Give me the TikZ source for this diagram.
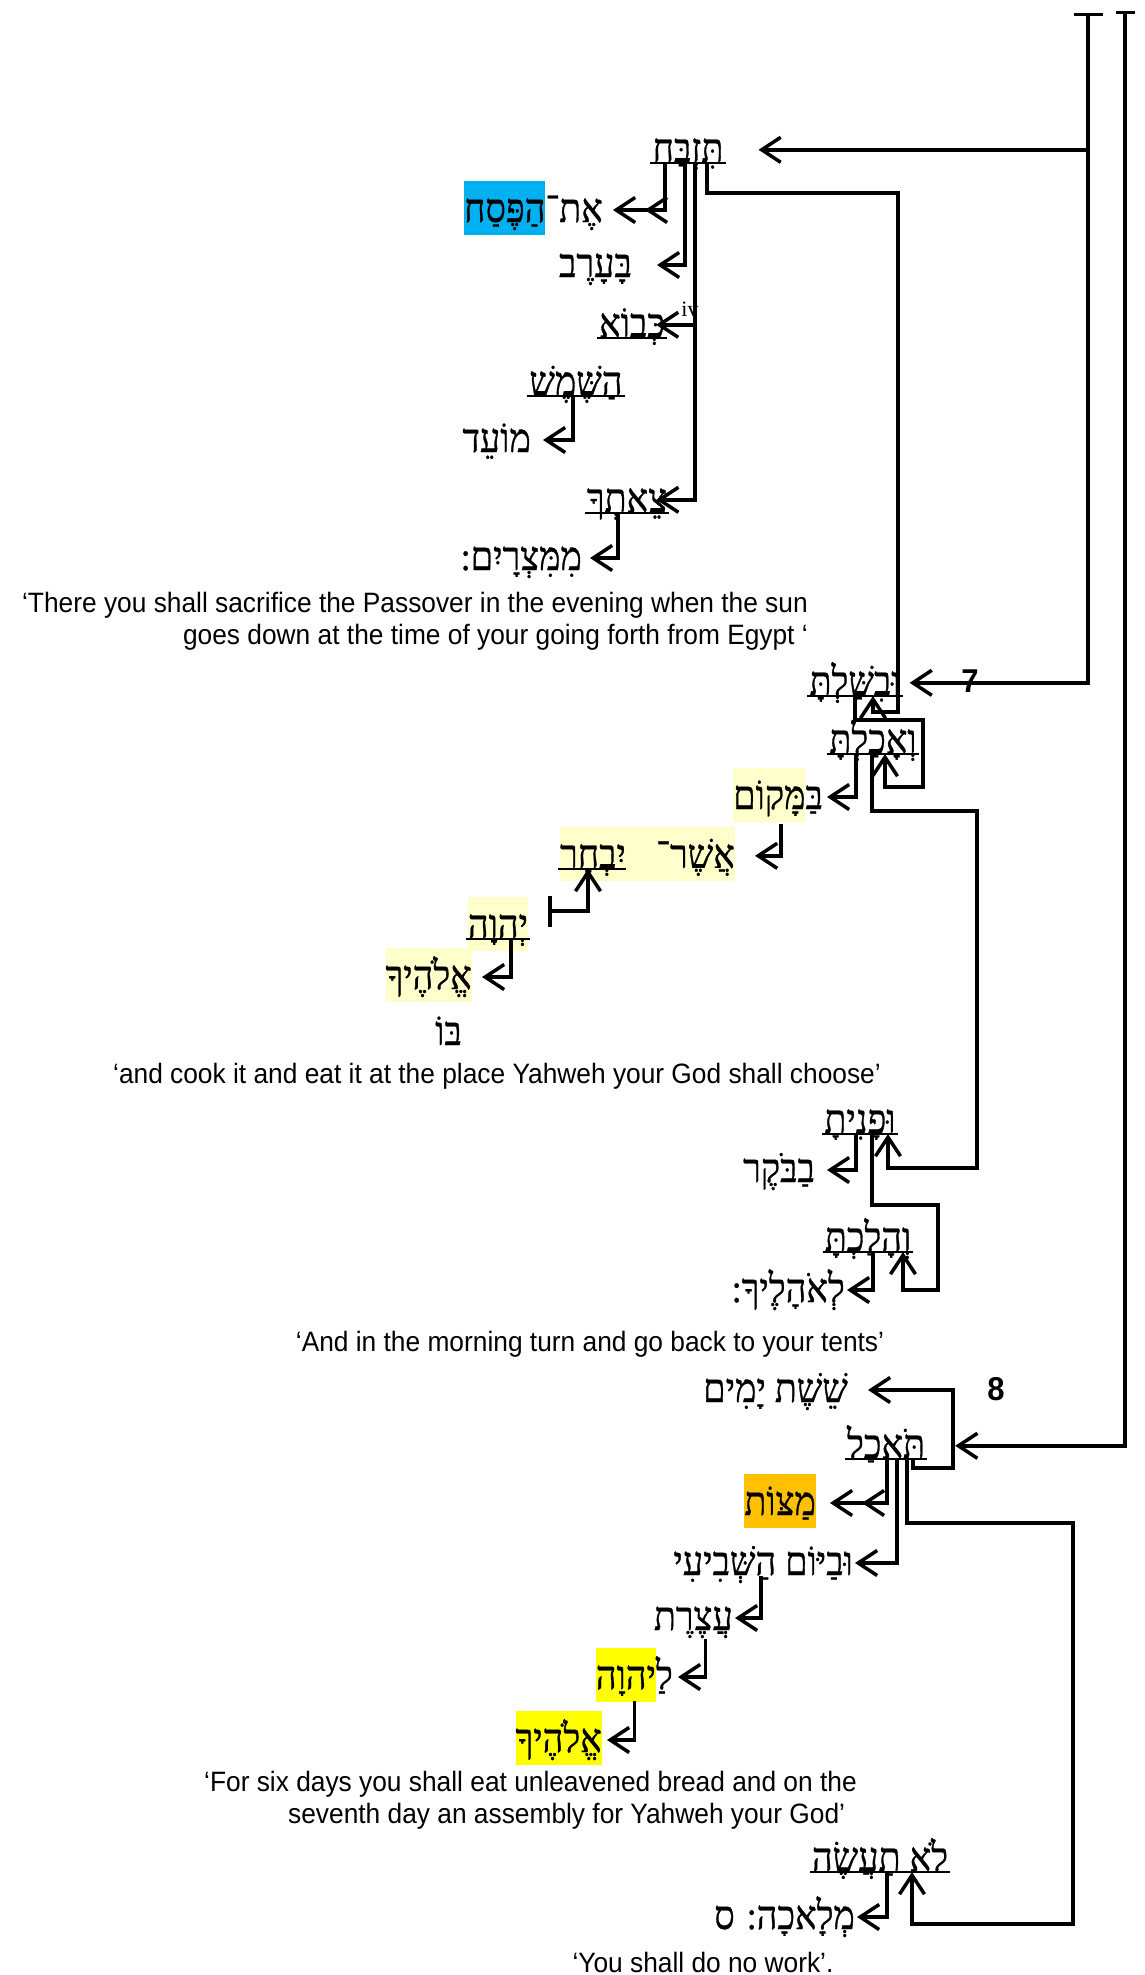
\documentclass[tikz,border=0pt]{standalone}
\usepackage{fontspec}
\setmainfont{Liberation Sans}[FakeStretch=0.94]
\newfontfamily\hebfont[Script=Hebrew,FakeStretch=0.9,FakeBold=0.8]{Liberation Serif}
\newfontfamily\supfont{Liberation Serif}
\TeXXeTstate=1
\usepackage{xcolor}
\definecolor{hlBlue}{HTML}{00B0F0}
\definecolor{hlPale}{HTML}{FFFFCC}
\definecolor{hlOrange}{HTML}{FFC000}
\definecolor{hlYellow}{HTML}{FFFF00}
\usetikzlibrary{arrows.meta,positioning}
\newcommand{\heb}[1]{\beginR #1\endR}
% highlight: kept outside any right-to-left run
\newcommand{\hlw}[2]{{\setlength{\fboxsep}{0pt}\colorbox{#1}{\beginR\rule[-13pt]{0pt}{54pt}#2\endR}}}
\tikzset{
    word/.style={
        font=\hebfont\fontsize{40}{44}\selectfont,
        inner xsep=2pt,
        inner ysep=1pt,
        text height=24pt,
        text depth=0pt
    },
    uword/.style={
        word,
        append after command={(\tikzlastnode.south west) edge[line width=1.6pt] (\tikzlastnode.south east)}
    },
    gloss/.style={
        font=\fontsize{28}{32}\selectfont,
        inner sep=0pt
    },
    versenum/.style={
        font=\fontsize{33}{34}\selectfont\bfseries,
        inner sep=0pt
    },
    arrow/.style={
        -{Straight Barb[length=19pt,width=25pt]},
        line width=3.5pt
    },
    darrow/.style={
        arrow,
        -{Straight Barb[length=19pt,width=25pt,sep=8pt]Straight Barb[length=19pt,width=25pt]}
    },
    bararrow/.style={
        arrow,
        {Bar[width=#1]}-{Straight Barb[length=19pt,width=25pt]}
    },
    bararrow/.default=29pt
}

\begin{document}
\begin{tikzpicture}[x=1pt,y=-1pt]
    \useasboundingbox (0,0) rectangle (1144,1975);
    \coordinate (rootA) at (1088,13);
    \coordinate (rootB) at (1125,11);

    % verse 6
    \node[uword, anchor=south] (tizbach) at (688,163) {\heb{תִּזְבַּח}};
    \node[word, anchor=east] (pesach) at (605,210) {\hlw{hlBlue}{הַפֶּסַח}\heb{אֶת־}};
    \node[word, anchor=east] (baerev) at (634,265) {\heb{בָּעָרֶב}};
    \node[uword, anchor=south] (kevo) at (632,338) {\heb{כְּבוֹא}};
    \node[font=\supfont\fontsize{22}{22}\selectfont, inner sep=0pt] (kevoiv) at (690,309) {iv};
    \node[uword, anchor=south] (hashemesh) at (576,396) {\heb{הַשֶּׁמֶשׁ}};
    \node[word, anchor=east] (moed) at (533,440) {\heb{מוֹעֵד}};
    \node[uword, anchor=south] (tseteka) at (627,513) {\heb{צֵאתְךָ}};
    \node[word, anchor=east] (mimitsrayim) at (584,558) {\heb{מִמִּצְרָיִם:}};
    \node[gloss, anchor=east, align=right] (gloss6) at (808,621)
        {‘There you shall sacrifice the Passover in the evening when the sun\\goes down at the time of your going forth from Egypt ‘};

    \draw[bararrow] (rootA) |- ([xshift=33]tizbach.east);
    \draw[darrow] ([xshift=-23]tizbach.south) |- ([xshift=8]pesach.east);
    \draw[arrow] ([xshift=-3]tizbach.south) |- ([xshift=23]baerev.east);
    \draw[arrow] ([xshift=7]tizbach.south) |- ([xshift=-11]kevo.east);
    \draw[arrow] ([xshift=7]tizbach.south) |- ([xshift=-13]tseteka.east);
    \draw[arrow] ([xshift=-3]hashemesh.south) |- ([xshift=10]moed.east);
    \draw[arrow] ([xshift=-9]tseteka.south) |- ([xshift=6]mimitsrayim.east);

    % verse 7
    \node[versenum] (v7) at (970,681) {7};
    \node[uword, anchor=south] (bishalta) at (855,696) {\heb{וּבִשַּׁלְתָּ}};
    \node[uword, anchor=south] (veachalta) at (873,754) {\heb{וְאָכַלְתָּ}};
    \node[word, anchor=east] (bamakom) at (825,797) {\hlw{hlPale}{מָּקוֹם}\heb{בַּ}};
    \node[uword, anchor=south] (yivchar) at (593,869) {\hlw{hlPale}{יִבְחַר}};
    \node[word, inner xsep=0pt, right=-2pt of yivchar] (asher) {\hlw{hlPale}{אֲשֶׁר־\hspace{30pt}}};
    \node[uword, anchor=south] (yhwhA) at (498,939) {\hlw{hlPale}{יְהוָה}};
    \node[word, anchor=east] (elohechaA) at (474,977) {\hlw{hlPale}{אֱלֹהֶיךָ}};
    \node[word, anchor=east] (bo) at (464,1033) {\heb{בּוֹ}};
    \node[gloss] (gloss7a) at (497,1076)
        {‘and cook it and eat it at the place Yahweh your God shall choose’};
    \node[uword, anchor=south] (vufanita) at (860,1134) {\heb{וּפָנִיתָ}};
    \node[word, anchor=east] (baboker) at (817,1170) {\heb{בַבֹּקֶר}};
    \node[uword, anchor=south] (vehalachta) at (868,1252) {\heb{וְהָלַכְתָּ}};
    \node[word, anchor=east] (leohalecha) at (847,1290) {\heb{לְאֹהָלֶיךָ:}};
    \node[gloss] (gloss7b) at (590,1344)
        {‘And in the morning turn and go back to your tents’};

    \draw[arrow] ([xshift=19]tizbach.south) |- ++(191,30) -- ++(0,519) -| ([xshift=18]bishalta.south);
    \draw[bararrow] (rootA) |- ([xshift=7]bishalta.east);
    \draw[arrow] (bishalta.south) |- ++(68,24) -- ++(0,67) -| ([xshift=12]veachalta.south);
    \draw[arrow] ([xshift=-17]veachalta.south) |- ([xshift=2]bamakom.east);
    \draw[arrow] ([xshift=3,yshift=-14]bamakom.south) |- ([xshift=20]asher.east);
    \draw[bararrow=31pt] ([xshift=50,yshift=28]yhwhA.south) -| ([xshift=-5]yivchar.south);
    \draw[arrow] ([xshift=13]yhwhA.south) |- ([xshift=8]elohechaA.east);
    \draw[arrow] ([xshift=-1]veachalta.south) |- ++(105,57) -- ++(0,357) -| ([xshift=28]vufanita.south);
    \draw[arrow] ([xshift=-4]vufanita.south) |- ([xshift=10]baboker.east);
    \draw[arrow] ([xshift=12]vufanita.south) |- ++(66,71) -- ++(0,85) -| ([xshift=35]vehalachta.south);
    \draw[arrow] ([xshift=5]vehalachta.south) |- (leohalecha.east);

    % verse 8
    \node[versenum] (v8) at (996,1389) {8};
    \node[word, anchor=east] (sheshet) at (850,1390) {\heb{שֵׁשֶׁת יָמִים}};
    \node[uword, anchor=south] (tochal) at (886,1459) {\heb{תֹּאכַל}};
    \node[word, anchor=east] (matsot) at (818,1503) {\hlw{hlOrange}{מַצּוֹת}};
    \node[word, anchor=east] (uvayom) at (855,1563) {\heb{וּבַיּוֹם הַשְּׁבִיעִי}};
    \node[word, anchor=east] (atseret) at (735,1618) {\heb{עֲצֶרֶת}};
    \node[word, anchor=east] (layhwh) at (675,1677) {\hlw{hlYellow}{יהוָה}\heb{לַ}};
    \node[word, anchor=east] (elohechaB) at (604,1740) {\hlw{hlYellow}{אֱלֹהֶיךָ}};
    \node[gloss, anchor=west, align=left] (gloss8a) at (204,1800)
        {‘For six days you shall eat unleavened bread and on the\\\hspace*{84pt}seventh day an assembly for Yahweh your God’};
    \node[uword, anchor=south] (lotaase) at (880,1872) {\heb{לֹא תַעֲשֶׂה}};
    \node[word, anchor=east] (melacha) at (857,1917) {\heb{מְלָאכָה: ס}};
    \node[gloss] (gloss8b) at (703,1962) {‘You shall do no work’.};

    \draw[bararrow=19pt] (rootB) |- ([xshift=28]tochal.east);
    \draw[arrow] ([xshift=27]tochal.south) |- ++(40,9) |- ([xshift=18]sheshet.east);
    \draw[darrow] ([xshift=1]tochal.south) |- ([xshift=12]matsot.east);
    \draw[arrow] ([xshift=11]tochal.south) |- (uvayom.east);
    \draw[arrow] ([xshift=-2]uvayom.south) |- (atseret.east);
    \draw[arrow] ([xshift=12,yshift=-8]atseret.south) |- ([xshift=3]layhwh.east);
    \draw[arrow] ([yshift=-11]layhwh.south) |- ([xshift=3]elohechaB.east);
    \draw[arrow] ([xshift=21]tochal.south) |- ++(166,64) -- ++(0,401) -| ([xshift=32]lotaase.south);
    \draw[arrow] ([xshift=7]lotaase.south) |- (melacha.east);
\end{tikzpicture}
\end{document}
